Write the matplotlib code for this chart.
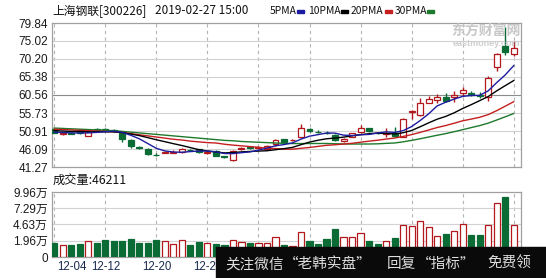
import matplotlib.pyplot as plt
import matplotlib.transforms as mtransforms
from matplotlib.patches import Rectangle

# daily candles 12-04 .. 02-27
opens = [51.4, 50.0, 50.5, 50.6, 49.7, 51.4, 51.5, 51.2, 50.4, 48.5,
         46.6, 46.2, 44.6, 45.0, 45.1, 45.2, 45.9, 46.0, 45.0, 45.6,
         44.1, 43.2, 46.1, 46.6, 46.3, 46.0, 47.3, 48.7, 48.4, 49.2,
         51.4, 50.7, 50.4, 49.8, 48.3, 49.4, 50.6, 51.6, 50.4, 50.1,
         50.3, 49.4, 56.0, 55.2, 58.5, 59.2, 60.1, 59.9, 61.0, 61.2,
         60.5, 59.9, 68.1, 73.7, 71.5]
closes = [50.5, 50.3, 50.2, 50.4, 50.7, 51.1, 51.2, 50.9, 48.7, 46.9,
          46.4, 44.8, 44.5, 45.3, 45.4, 46.1, 45.7, 45.2, 45.3, 44.3,
          43.9, 45.6, 46.4, 46.4, 46.5, 46.9, 48.5, 48.1, 48.6, 51.6,
          50.8, 50.6, 50.3, 48.4, 48.9, 50.3, 51.6, 50.8, 50.3, 50.4,
          49.5, 54.0, 56.3, 58.3, 59.4, 60.1, 59.0, 60.5, 61.9, 60.6,
          60.3, 65.0, 71.5, 72.2, 73.1]
highs = [51.6, 50.6, 50.7, 50.9, 51.0, 51.6, 51.7, 51.4, 50.6, 48.7,
         46.9, 46.4, 44.9, 45.6, 45.8, 46.4, 46.1, 46.2, 45.6, 45.8,
         44.3, 45.9, 46.7, 47.0, 47.0, 47.2, 48.8, 48.9, 48.8, 52.8,
         51.6, 51.1, 50.8, 50.0, 49.1, 50.5, 52.5, 51.8, 50.7, 51.6,
         52.0, 54.3, 56.6, 59.7, 60.3, 60.8, 61.0, 61.5, 62.8, 61.5,
         61.3, 65.6, 71.8, 78.8, 75.1]
lows = [50.3, 49.8, 50.0, 50.2, 49.5, 50.9, 51.0, 50.7, 47.9, 46.3,
        46.0, 44.6, 44.2, 44.9, 44.9, 44.9, 45.5, 45.0, 44.8, 44.1,
        43.6, 43.0, 45.9, 46.1, 46.0, 45.8, 47.0, 47.8, 48.2, 49.0,
        50.6, 50.3, 50.0, 48.2, 48.0, 49.2, 50.4, 50.6, 50.0, 49.4,
        49.3, 49.2, 54.0, 55.0, 58.3, 58.5, 58.7, 58.6, 60.3, 60.3,
        59.8, 59.0, 67.1, 71.3, 71.0]

# volume in 万 shares
volumes = [1.53, 1.26, 1.26, 1.42, 1.91, 1.59, 2.08, 1.91, 1.91, 2.24,
           1.59, 1.59, 2.08, 1.91, 1.37, 2.03, 1.26, 1.70, 1.53, 1.37,
           1.26, 2.03, 1.70, 1.59, 1.53, 1.53, 2.52, 1.26, 1.14, 3.44,
           1.91, 1.42, 2.24, 3.88, 2.62, 2.52, 3.18, 1.91, 1.42, 1.96,
           2.46, 4.54, 4.38, 5.15, 4.16, 2.73, 3.01, 3.51, 4.66, 2.90,
           2.90, 4.54, 8.10, 9.14, 4.62]

# moving average lines as drawn on the chart
ma5 = [50.6, 50.5, 50.4, 50.4, 50.42, 50.54, 50.72, 50.86, 50.52, 49.76,
       48.82, 47.54, 46.26, 45.58, 45.28, 45.22, 45.40, 45.54, 45.54, 45.32,
       44.88, 44.86, 45.10, 45.32, 45.76, 46.36, 46.94, 47.28, 47.72, 48.74,
       49.52, 49.94, 50.38, 50.34, 49.80, 49.70, 49.90, 50.00, 50.38, 50.68,
       50.52, 51.00, 52.10, 53.70, 55.50, 57.62, 58.62, 59.46, 60.18, 60.42,
       60.46, 61.66, 63.86, 65.92, 68.42]
ma10 = [51.0, 50.9, 50.8, 50.8, 50.7, 50.7, 50.7, 50.7, 50.5, 50.09,
        49.68, 49.13, 48.56, 48.05, 47.52, 47.02, 46.47, 45.90, 45.56, 45.30,
        45.05, 45.13, 45.32, 45.43, 45.54, 45.62, 45.90, 46.19, 46.52, 47.25,
        47.94, 48.44, 48.83, 49.03, 49.27, 49.61, 49.92, 50.19, 50.36, 50.24,
        50.11, 50.45, 51.05, 52.04, 53.09, 54.07, 54.81, 55.78, 56.94, 57.96,
        59.04, 60.14, 61.66, 63.05, 64.42]
ma20 = [51.4, 51.3, 51.2, 51.1, 51.0, 50.9, 50.8, 50.7, 50.5, 50.2,
        49.9, 49.6, 49.3, 49.0, 48.7, 48.5, 48.2, 48.0, 47.8, 47.70,
        47.37, 47.13, 46.94, 46.74, 46.53, 46.32, 46.19, 46.05, 46.04, 46.28,
        46.50, 46.79, 47.08, 47.23, 47.41, 47.62, 47.91, 48.19, 48.44, 48.75,
        49.03, 49.45, 49.94, 50.54, 51.18, 51.84, 52.37, 52.99, 53.65, 54.10,
        54.58, 55.30, 56.36, 57.55, 58.76]
ma30 = [51.7, 51.6, 51.5, 51.4, 51.3, 51.2, 51.1, 51.0, 50.8, 50.6,
        50.4, 50.2, 50.0, 49.8, 49.6, 49.4, 49.2, 49.0, 48.8, 48.6,
        48.4, 48.3, 48.1, 48.0, 47.9, 47.8, 47.7, 47.6, 47.55, 47.55,
        47.56, 47.57, 47.57, 47.50, 47.44, 47.42, 47.43, 47.43, 47.48, 47.60,
        47.70, 48.01, 48.40, 48.83, 49.30, 49.77, 50.21, 50.72, 51.27, 51.82,
        52.36, 53.01, 53.85, 54.71, 55.59]

price_ticks = [41.27, 46.09, 50.91, 55.73, 60.56, 65.38, 70.20, 75.02, 79.84]
vol_ticks = [-0.705, 1.96, 4.63, 7.29, 9.96]
vol_tick_labels = ['0', '1.96万', '4.63万', '7.29万', '9.96万']
date_pos = [0, 6, 12, 18]
date_labels = ['12-04', '12-12', '12-20', '12-28']

W, H = 546, 278
UP = '#b3191c'
DOWN = '#0b6b35'
GRID = '#d2d2d2'
FRAME = '#a0a0a0'
cjk = ['Noto Sans CJK SC', 'DejaVu Sans']
num = ['Liberation Sans', 'Noto Sans CJK SC', 'DejaVu Sans']


def fig_xy(x, y):
    return x / W, 1 - y / H


fig = plt.figure(figsize=(W / 100, H / 100), dpi=100)
ax = fig.add_axes([52 / W, 1 - 167 / H, 469 / W, 144 / H])
axv = fig.add_axes([52 / W, 1 - 257 / H, 469 / W, 65 / H])

n = len(closes)
xs = list(range(n))
xlim = (-0.27, 54.86)

for a in (ax, axv):
    a.set_xlim(*xlim)
    for s in a.spines.values():
        s.set_color(FRAME)
        s.set_linewidth(0.9)
    a.tick_params(length=0, labelsize=8.5, pad=3, colors='#1a1a1a')
    a.set_xticks([])
    for p in range(0, n, 6):
        a.axvline(p, color='#b4b4b4', lw=0.8, ls=(0, (3, 3)), zorder=0)

# price panel
ax.set_ylim(price_ticks[0], price_ticks[-1])
ax.set_yticks(price_ticks)
ax.set_yticklabels(['%.2f' % t for t in price_ticks], family=num)
for t in price_ticks[1:-1]:
    ax.axhline(t, color='#8c8c8c' if t == 60.56 else GRID, lw=0.8, zorder=0)

for i in xs:
    up = closes[i] >= opens[i]
    col = UP if up else DOWN
    ax.vlines(i, lows[i], highs[i], color=col, lw=1.0, zorder=2)
    lo = min(opens[i], closes[i])
    ax.bar(i, max(abs(closes[i] - opens[i]), 0.08), bottom=lo, width=0.7,
           facecolor='white' if up else DOWN, edgecolor=col, lw=0.9, zorder=3)

ax.plot(xs, ma30, color='#1d7a2c', lw=1.0, zorder=4)
ax.plot(xs, ma20, color='#c41f1f', lw=1.0, zorder=4)
ax.plot(xs, ma10, color='black', lw=1.0, zorder=4)
ax.plot(xs, ma5, color='#1c1ca0', lw=1.0, zorder=4)

# volume panel
vmin = vol_ticks[0]
axv.set_ylim(vmin, vol_ticks[-1])
axv.set_yticks(vol_ticks)
axv.set_yticklabels(vol_tick_labels, family=num)
for t in vol_ticks[1:-1]:
    axv.axhline(t, color=GRID, lw=0.8, zorder=0)
for i in xs:
    up = closes[i] >= opens[i]
    col = UP if up else DOWN
    axv.bar(i, volumes[i] - vmin, bottom=vmin, width=0.72,
            facecolor='white' if up else DOWN, edgecolor=col, lw=0.9, zorder=3)

trans = mtransforms.blended_transform_factory(axv.transData, axv.transAxes)
for p, lab in zip(date_pos, date_labels):
    axv.text(p + (0.3 if p == 0 else 0), -0.155, lab, transform=trans,
             ha='left' if p == 0 else 'center', va='center', fontsize=8.3,
             family=num, color='#1a2a50')

# header texts
fig.text(*fig_xy(52, 11), '上海钢联[300226]', family=cjk, fontsize=8.5,
         va='center', color='#111111')
fig.text(*fig_xy(155, 11), '2019-02-27 15:00', family=cjk, fontsize=8.5,
         va='center', color='#111111')
legend = [('5PMA', 270, 297, '#1c1ca0'), ('10PMA', 308, 341, 'black'),
          ('20PMA', 351, 385, '#c41f1f'), ('30PMA', 395, 427, '#1d7a2c')]
for lab, tx, mx, col in legend:
    fig.text(*fig_xy(tx, 11), lab, family=cjk, fontsize=7.4, va='center',
             color='#111111')
    fig.add_artist(Rectangle(fig_xy(mx, 13), 7 / W, 3 / H,
                             transform=fig.transFigure, color=col))
fig.text(*fig_xy(53, 180), '成交量:46211', family=cjk, fontsize=8.8,
         va='center', color='#111111')

# watermark
fig.text(*fig_xy(486, 31), '东方财富网', family=cjk, fontsize=10,
         weight='bold', ha='center', va='center', color='#c8c8c8', zorder=5)
fig.text(*fig_xy(486, 43), 'eastmoney.com', family=num, fontsize=6.5,
         weight='bold', ha='center', va='center', color='#cfcfcf', zorder=5)

# black banner at the bottom
fig.add_artist(Rectangle(fig_xy(216, H), (W - 216) / W, 31 / H,
                         transform=fig.transFigure, color='#0a0a0a', zorder=10))
banner = [('关注微信', 225), ('“老韩实盘”', 284), ('回复', 387),
          ('“指标”', 417), ('免费领', 487)]
for txt, bx in banner:
    fig.text(*fig_xy(bx, 264), txt, family=cjk, fontsize=10.5, va='center',
             color='#dedede', zorder=11)

fig.savefig('out.png', dpi=100, facecolor='white')
